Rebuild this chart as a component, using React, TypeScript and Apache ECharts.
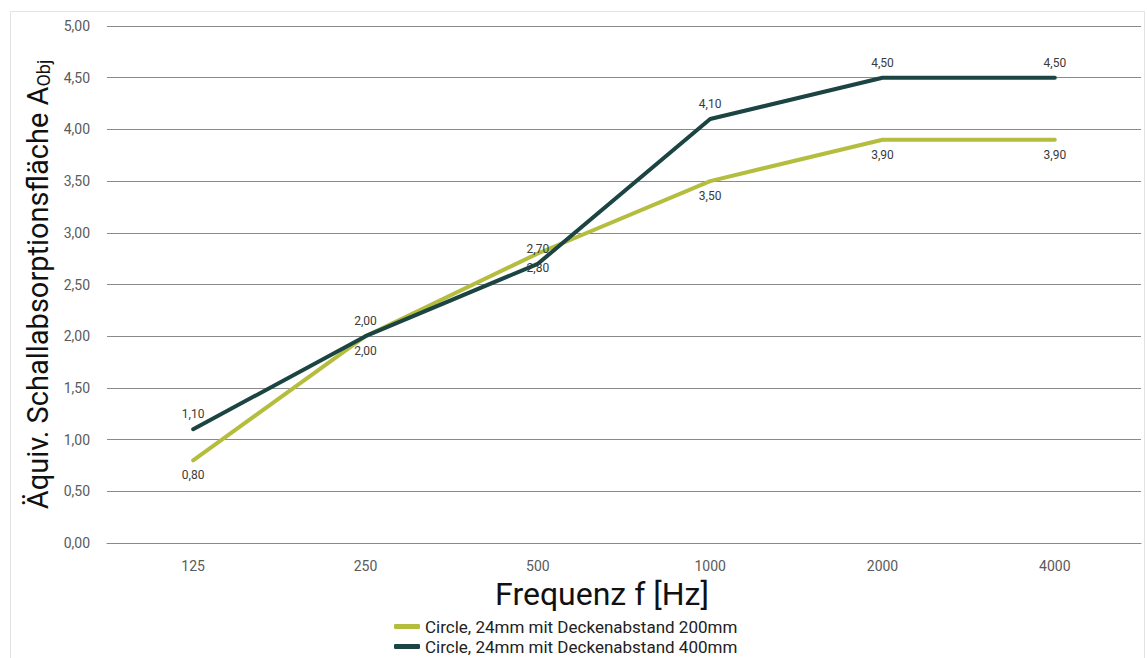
import React, { useEffect, useRef } from "react";
import * as echarts from "echarts";

const categories = ["125", "250", "500", "1000", "2000", "4000"];
const series200 = [0.8, 2.0, 2.8, 3.5, 3.9, 3.9];
const series400 = [1.1, 2.0, 2.7, 4.1, 4.5, 4.5];
const seriesNames = [
  "Circle, 24mm mit Deckenabstand 200mm",
  "Circle, 24mm mit Deckenabstand 400mm",
];
const yTicks = { min: 0, max: 5, interval: 0.5 };

const FONT = "Roboto, 'DejaVu Sans', sans-serif";
const fmt = (v: number) => v.toFixed(2).replace(".", ",");

export default function App() {
  const ref = useRef<HTMLDivElement>(null);
  useEffect(() => {
    if (!ref.current) return;
    const chart = echarts.init(ref.current, undefined, { renderer: "svg" });
    chart.setOption({
      animation: false,
      backgroundColor: "#ffffff",
      textStyle: { fontFamily: FONT },
      graphic: [
        {
          type: "rect",
          shape: { x: 10.5, y: 11.5, width: 1134, height: 760 },
          style: { fill: "none", stroke: "#e3e3e3", lineWidth: 1 },
          silent: true,
          z: -1,
        },
      ],
      grid: { left: 107, right: 6, top: 26, bottom: 157, containLabel: false },
      legend: {
        orient: "vertical",
        left: 394,
        top: 618,
        padding: 0,
        itemWidth: 26,
        itemHeight: 5,
        itemGap: 3,
        icon: "roundRect",
        textStyle: { fontFamily: FONT, fontSize: 17, lineHeight: 17, color: "#222" },
        data: seriesNames,
      },
      xAxis: {
        type: "category",
        data: categories,
        boundaryGap: true,
        axisTick: { show: false },
        axisLine: { show: true, lineStyle: { color: "#8a8a8a", width: 1 } },
        axisLabel: { color: "#5a5a5a", fontSize: 14, margin: 16, fontFamily: FONT },
        name: "Frequenz f [Hz]",
        nameLocation: "middle",
        nameGap: 32,
        nameTextStyle: {
          fontSize: 32,
          color: "#111",
          fontFamily: FONT,
          padding: [0, 44, 0, 0],
        },
      },
      yAxis: {
        type: "value",
        min: yTicks.min,
        max: yTicks.max,
        interval: yTicks.interval,
        axisLine: { show: false },
        axisTick: { show: false },
        splitLine: { lineStyle: { color: "#8a8a8a", width: 1 } },
        axisLabel: {
          color: "#5a5a5a",
          fontSize: 14,
          margin: 17,
          fontFamily: FONT,
          formatter: (v: number) => fmt(v),
        },
        name: "{m|Äquiv. Schallabsorptionsfläche A}{s|Obj}",
        nameLocation: "middle",
        nameGap: 52,
        nameRotate: 90,
        nameTextStyle: {
          rich: {
            m: { fontSize: 29, color: "#111", fontFamily: FONT },
            s: { fontSize: 18, color: "#111", fontFamily: FONT, padding: [12, 0, 0, 0] },
          },
        },
      },
      series: [
        {
          name: seriesNames[0],
          type: "line",
          data: series200,
          symbol: "circle",
          symbolSize: 0,
          showSymbol: true,
          lineStyle: { color: "#b5bd3e", width: 4, cap: "round", join: "round" },
          itemStyle: { color: "#b5bd3e" },
          label: {
            show: true,
            position: "bottom",
            distance: 9,
            color: "#3a3a3a",
            fontSize: 12,
            fontFamily: FONT,
            formatter: (p: any) => fmt(p.value),
          },
          z: 2,
        },
        {
          name: seriesNames[1],
          type: "line",
          data: series400,
          symbol: "circle",
          symbolSize: 0,
          showSymbol: true,
          lineStyle: { color: "#1b4443", width: 4, cap: "round", join: "round" },
          itemStyle: { color: "#1b4443" },
          label: {
            show: true,
            position: "top",
            distance: 9,
            color: "#3a3a3a",
            fontSize: 12,
            fontFamily: FONT,
            formatter: (p: any) => fmt(p.value),
          },
          z: 3,
        },
      ],
    });
    return () => chart.dispose();
  }, []);
  return (
    <div
      ref={ref}
      style={{ position: "fixed", left: 0, top: 0, width: 1147, height: 700 }}
    />
  );
}
